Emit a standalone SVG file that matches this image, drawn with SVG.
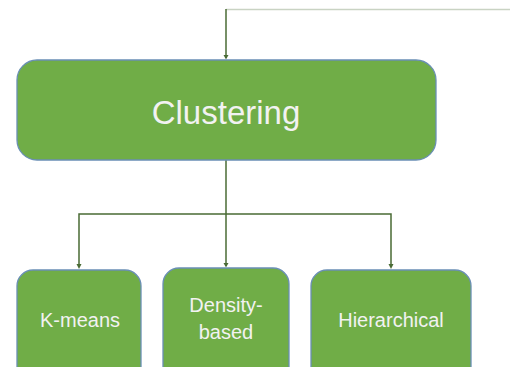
<svg xmlns="http://www.w3.org/2000/svg" width="515" height="367" viewBox="0 0 515 367">
<style>
.box{fill:#70AD47;stroke:#6A8FB5;stroke-width:1.3}
.lbl{font-family:"Liberation Sans",Arial,sans-serif;fill:#F2F2F2;text-anchor:middle;dominant-baseline:central}
.con{fill:none;stroke:#4A6B35;stroke-width:1.5}
</style>
<defs>
<marker id="ah" markerWidth="6" markerHeight="6" refX="3" refY="5" orient="auto" markerUnits="userSpaceOnUse" viewBox="0 0 6 6">
<path d="M0.5,1 L5.5,1 L3,5.5 Z" fill="#4A6B35" transform="rotate(-90 3 3)"/>
</marker>
</defs>
<rect width="515" height="367" fill="#FFFFFF"/>
<g id="connectors">
<line x1="226" y1="9.5" x2="510" y2="9.5" stroke="#C9D3C3" stroke-width="1.5"/>
<path class="con" d="M226,9 V58"/>
<path d="M223.5,55 L228.5,55 L226,59.5 Z" fill="#4A6B35"/>
<path class="con" d="M226,160 V266"/>
<path class="con" d="M79,267 V214 H391 V267"/>
<path d="M76.5,264 L81.5,264 L79,269 Z" fill="#4A6B35"/>
<path d="M223.5,263 L228.5,263 L226,267.5 Z" fill="#4A6B35"/>
<path d="M388.5,264 L393.5,264 L391,269 Z" fill="#4A6B35"/>
</g>
<g id="clustering">
<rect class="box" x="17" y="60" width="419" height="100" rx="20"/>
<text class="lbl" x="226" y="112" font-size="33">Clustering</text>
</g>
<g id="kmeans">
<rect class="box" x="17" y="270" width="124" height="120" rx="16"/>
<text class="lbl" x="80" y="320" font-size="20">K-means</text>
</g>
<g id="density">
<rect class="box" x="163" y="268" width="126" height="122" rx="16"/>
<text class="lbl" x="226" y="305" font-size="20">Density-</text>
<text class="lbl" x="226" y="332" font-size="20">based</text>
</g>
<g id="hierarchical">
<rect class="box" x="311" y="270" width="160" height="120" rx="16"/>
<text class="lbl" x="391" y="320" font-size="20">Hierarchical</text>
</g>
</svg>
